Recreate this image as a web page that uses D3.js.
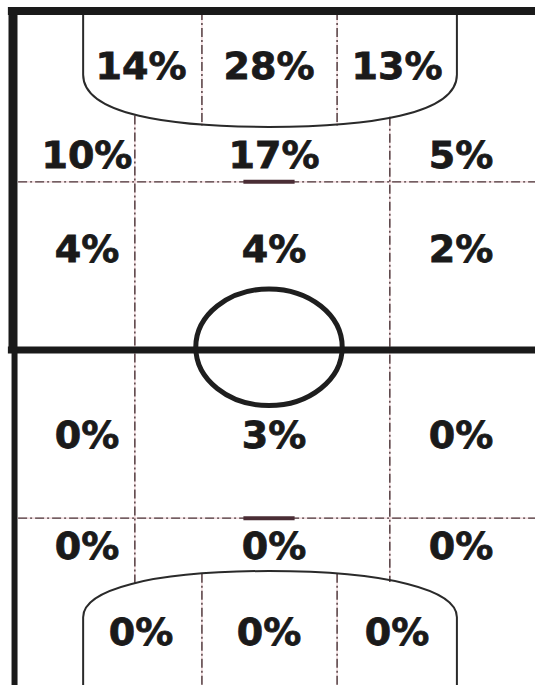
<!DOCTYPE html>
<html>
<head>
<meta charset="utf-8">
<script src="https://cdn.jsdelivr.net/npm/d3@7"></script>
<style>
  html, body { margin: 0; padding: 0; background: #fff; }
  svg { display: block; }
</style>
</head>
<body>
<div id="chart"></div>
<script>
// ---------- data ----------
const rows = ["top box", "top edge", "top half", "bottom half", "bottom edge", "bottom box"];
const cols = ["left", "centre", "right"];
const shares = [
  [14, 28, 13],
  [10, 17, 5],
  [4, 4, 2],
  [0, 3, 0],
  [0, 0, 0],
  [0, 0, 0]
];

// ---------- pitch layout (pitch units 0..100) ----------
const W = 535, H = 685;
// vertical label band of each row (pitch units)
const rowBands = [[0, 16], [17.1, 25.2], [25.2, 44.8], [50, 74.8], [74.8, 82.9], [82.9, 100]];
const rowIsBox = [true, false, false, false, false, true];

const x = d3.scaleLinear().domain([0, 100]).range([13, 525]);
const y = d3.scaleLinear().domain([0, 100]).range([11, 689]);

// column positions for labels: inside the boxes and in the open field
const colBox = d3.scalePoint().domain(cols).range([x(25), x(75)]);
const colOuter = d3.scalePoint().domain(cols).range([x(14.45), x(87.5)]);

const svg = d3.select("#chart").append("svg")
  .attr("width", W).attr("height", H);

svg.append("rect").attr("width", W).attr("height", H).attr("fill", "#fff");

const gLines = svg.append("g");

function dashLine(x1, y1, x2, y2) {
  gLines.append("line")
    .attr("x1", x(x1)).attr("y1", y(y1)).attr("x2", x(x2)).attr("y2", y(y2))
    .attr("stroke", "#f0d2d6").attr("stroke-width", 1.2);
  gLines.append("line")
    .attr("x1", x(x1)).attr("y1", y(y1)).attr("x2", x(x2)).attr("y2", y(y2))
    .attr("stroke", "#4a3538").attr("stroke-width", 1.4)
    .attr("stroke-dasharray", "9,3,2,3");
}

// horizontal zone lines
dashLine(1, 25.2, 102, 25.2);
dashLine(1, 74.8, 102, 74.8);
// vertical outer zone lines (between the two boxes)
dashLine(23.8, 15.4, 23.8, 84.4);
dashLine(73.6, 15.6, 73.6, 84.2);
// vertical lines inside boxes
dashLine(36.9, 0, 36.9, 16.9);
dashLine(63.3, 0, 63.3, 16.9);
dashLine(36.9, 83.0, 36.9, 101);
dashLine(63.3, 83.0, 63.3, 101);

// penalty boxes
function boxPath(edge, side, c1y, c2x, arc, sign) {
  const p = d3.path();
  p.moveTo(x(13.7), y(edge));
  p.lineTo(x(13.7), y(side));
  p.bezierCurveTo(x(13.7), y(c1y), x(c2x), y(arc), x(50), y(arc));
  p.bezierCurveTo(x(100 - c2x), y(arc), x(86.7), y(c1y), x(86.7), y(side));
  p.lineTo(x(86.7), y(edge));
  return p.toString();
}
gLines.append("path").attr("d", boxPath(0, 9.4, 15.3, 30.7, 17.1))
  .attr("fill", "none").attr("stroke", "#2a2a2a").attr("stroke-width", 2);
gLines.append("path").attr("d", boxPath(101, 89.4, 85.4, 26.8, 82.6))
  .attr("fill", "none").attr("stroke", "#2a2a2a").attr("stroke-width", 2);

// spot markers
[25.2, 74.8].forEach(v => {
  gLines.append("line")
    .attr("x1", x(45)).attr("x2", x(55)).attr("y1", y(v)).attr("y2", y(v))
    .attr("stroke", "#4a2d35").attr("stroke-width", 4);
});

// centre circle
gLines.append("ellipse")
  .attr("cx", x(50)).attr("cy", y(49.6))
  .attr("rx", x(14.3) - x(0)).attr("ry", y(8.6) - y(0))
  .attr("fill", "none").attr("stroke", "#1e1e1e").attr("stroke-width", 5);

// thick boundary lines
gLines.append("line")
  .attr("x1", x(-1)).attr("x2", x(102)).attr("y1", y(0)).attr("y2", y(0))
  .attr("stroke", "#1a1a1a").attr("stroke-width", 8);
gLines.append("line")
  .attr("x1", x(-1)).attr("x2", x(102)).attr("y1", y(50)).attr("y2", y(50))
  .attr("stroke", "#1a1a1a").attr("stroke-width", 7);
gLines.append("line")
  .attr("x1", x(0)).attr("x2", x(0)).attr("y1", y(-0.6)).attr("y2", y(50))
  .attr("stroke", "#1a1a1a").attr("stroke-width", 9);
gLines.append("line")
  .attr("x1", x(0.3)).attr("x2", x(0.3)).attr("y1", y(50)).attr("y2", y(101))
  .attr("stroke", "#1a1a1a").attr("stroke-width", 6);

// ---------- labels ----------
const labels = [];
shares.forEach((vals, r) => {
  const cs = rowIsBox[r] ? colBox : colOuter;
  vals.forEach((v, c) => {
    labels.push({
      row: rows[r], col: cols[c], value: v,
      cx: cs(cols[c]),
      cy: y((rowBands[r][0] + rowBands[r][1]) / 2)
    });
  });
});

svg.append("g").selectAll("text").data(labels).join("text")
  .attr("x", d => d.cx)
  .attr("y", d => d.cy)
  .attr("dy", "0.36em")
  .attr("text-anchor", "middle")
  .attr("font-family", "'DejaVu Sans', Verdana, sans-serif")
  .attr("font-weight", "bold")
  .attr("font-size", 38)
  .attr("fill", "#1a1a1a")
  .attr("stroke", "#1a1a1a")
  .attr("stroke-width", 0.8)
  .text(d => d.value + "%");
</script>
</body>
</html>
